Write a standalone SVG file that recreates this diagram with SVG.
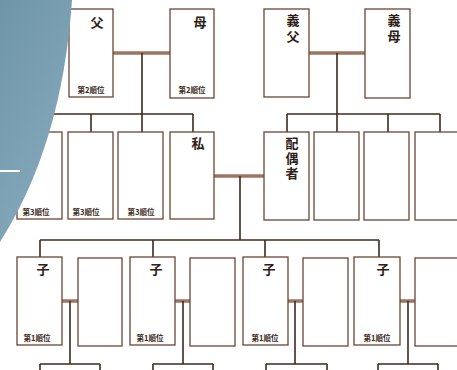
<svg xmlns="http://www.w3.org/2000/svg" width="457" height="370" viewBox="0 0 457 370">
<defs>
<linearGradient id="bg" x1="0" y1="0" x2="0.6" y2="1">
<stop offset="0" stop-color="#6f95a9"/>
<stop offset="1" stop-color="#86aabc"/>
</linearGradient>
<style>
.box{fill:#fff;stroke:#6b4535;stroke-width:1.3}
.ln{stroke:#3d2a1e;stroke-width:1.6;fill:none}
.mr{stroke:#9a7560;stroke-width:3.5;fill:none}
.nm{font-family:"Noto Sans CJK JP","Noto Sans",sans-serif;font-weight:bold;font-size:13px;fill:#2e2016;text-anchor:middle}
.vt{font-family:"Noto Sans CJK JP","Noto Sans",sans-serif;font-weight:bold;font-size:13px;fill:#2e2016;writing-mode:vertical-rl;text-orientation:upright}
.rk{font-family:"Noto Sans CJK JP","Noto Sans",sans-serif;font-weight:bold;font-size:7.5px;fill:#3a2818;text-anchor:middle}
</style>
</defs>
<rect width="457" height="370" fill="#fff"/>
<g id="connectors">
<line class="mr" x1="113" y1="53" x2="170" y2="53"/>
<line class="ln" x1="142" y1="53" x2="142" y2="114"/>
<line class="ln" x1="40" y1="114" x2="193" y2="114"/>
<line class="ln" x1="40" y1="114" x2="40" y2="132"/>
<line class="ln" x1="91" y1="114" x2="91" y2="132"/>
<line class="ln" x1="142" y1="114" x2="142" y2="132"/>
<line class="ln" x1="193" y1="114" x2="193" y2="132"/>
<line class="mr" x1="309" y1="53" x2="365" y2="53"/>
<line class="ln" x1="337" y1="53" x2="337" y2="114"/>
<line class="ln" x1="287" y1="114" x2="440" y2="114"/>
<line class="ln" x1="287" y1="114" x2="287" y2="132"/>
<line class="ln" x1="337" y1="114" x2="337" y2="132"/>
<line class="ln" x1="388" y1="114" x2="388" y2="132"/>
<line class="ln" x1="440" y1="114" x2="440" y2="132"/>
<line class="mr" x1="214" y1="176" x2="264" y2="176"/>
<line class="ln" x1="240" y1="176" x2="240" y2="240"/>
<line class="ln" x1="40" y1="240" x2="379" y2="240"/>
<line class="ln" x1="40" y1="240" x2="40" y2="257"/>
<line class="ln" x1="153" y1="240" x2="153" y2="257"/>
<line class="ln" x1="265" y1="240" x2="265" y2="257"/>
<line class="ln" x1="379" y1="240" x2="379" y2="257"/>
<line class="mr" x1="62" y1="301" x2="78" y2="301"/>
<line class="ln" x1="70" y1="301" x2="70" y2="364"/>
<line class="ln" x1="40" y1="364" x2="100" y2="364"/>
<line class="ln" x1="40" y1="364" x2="40" y2="372"/>
<line class="ln" x1="100" y1="364" x2="100" y2="372"/>
<line class="mr" x1="175" y1="301" x2="190" y2="301"/>
<line class="ln" x1="183" y1="301" x2="183" y2="364"/>
<line class="ln" x1="153" y1="364" x2="213" y2="364"/>
<line class="ln" x1="153" y1="364" x2="153" y2="372"/>
<line class="ln" x1="213" y1="364" x2="213" y2="372"/>
<line class="mr" x1="288" y1="301" x2="303" y2="301"/>
<line class="ln" x1="295" y1="301" x2="295" y2="364"/>
<line class="ln" x1="266" y1="364" x2="327" y2="364"/>
<line class="ln" x1="266" y1="364" x2="266" y2="372"/>
<line class="ln" x1="327" y1="364" x2="327" y2="372"/>
<line class="mr" x1="400" y1="301" x2="415" y2="301"/>
<line class="ln" x1="408" y1="301" x2="408" y2="364"/>
<line class="ln" x1="378" y1="364" x2="438" y2="364"/>
<line class="ln" x1="378" y1="364" x2="378" y2="372"/>
<line class="ln" x1="438" y1="364" x2="438" y2="372"/>
</g>
<g id="father"><rect class="box" x="69" y="9" width="44" height="88"/><text class="nm" x="97" y="27">父</text><text class="rk" x="91" y="93">第2順位</text></g>
<g id="mother"><rect class="box" x="170" y="9" width="44" height="89"/><text class="nm" x="200" y="27">母</text><text class="rk" x="192" y="93">第2順位</text></g>
<g id="father-in-law"><rect class="box" x="264" y="9" width="45" height="88"/><text class="vt" x="293" y="14" letter-spacing="3">義父</text></g>
<g id="mother-in-law"><rect class="box" x="365" y="9" width="45" height="89"/><text class="vt" x="394" y="14" letter-spacing="3">義母</text></g>
<g id="sibling1"><rect class="box" x="17" y="132" width="45" height="87"/><text class="rk" x="36" y="215">第3順位</text></g>
<g id="sibling2"><rect class="box" x="68" y="132" width="45" height="87"/><text class="rk" x="86" y="215">第3順位</text></g>
<g id="sibling3"><rect class="box" x="118" y="132" width="45" height="87"/><text class="rk" x="141" y="215">第3順位</text></g>
<g id="self"><rect class="box" x="170" y="132" width="44" height="87"/><text class="nm" x="198" y="148">私</text></g>
<g id="spouse"><rect class="box" x="264" y="132" width="45" height="88"/><text class="vt" x="292" y="137" letter-spacing="2">配偶者</text></g>
<g id="spouse-sibling1"><rect class="box" x="314" y="132" width="45" height="88"/></g>
<g id="spouse-sibling2"><rect class="box" x="364" y="132" width="45" height="88"/></g>
<g id="spouse-sibling3"><rect class="box" x="415" y="132" width="45" height="88"/></g>
<g id="child1"><rect class="box" x="17" y="257" width="45" height="88"/><text class="nm" x="43" y="274">子</text><text class="rk" x="37" y="341">第1順位</text></g>
<g id="child1-partner"><rect class="box" x="78" y="258" width="44" height="88"/></g>
<g id="child2"><rect class="box" x="130" y="257" width="45" height="88"/><text class="nm" x="156" y="274">子</text><text class="rk" x="150" y="341">第1順位</text></g>
<g id="child2-partner"><rect class="box" x="190" y="258" width="45" height="88"/></g>
<g id="child3"><rect class="box" x="243" y="257" width="45" height="88"/><text class="nm" x="269" y="274">子</text><text class="rk" x="265" y="341">第1順位</text></g>
<g id="child3-partner"><rect class="box" x="303" y="258" width="45" height="88"/></g>
<g id="child4"><rect class="box" x="354" y="257" width="46" height="88"/><text class="nm" x="383" y="274">子</text><text class="rk" x="377" y="341">第1順位</text></g>
<g id="child4-partner"><rect class="box" x="415" y="258" width="45" height="88"/></g>
<path d="M0,0 L72,0 C67,70 52,160 0,242 Z" fill="url(#bg)"/>
<line x1="0" y1="171" x2="20" y2="171" stroke="#fff" stroke-width="2"/>
</svg>
